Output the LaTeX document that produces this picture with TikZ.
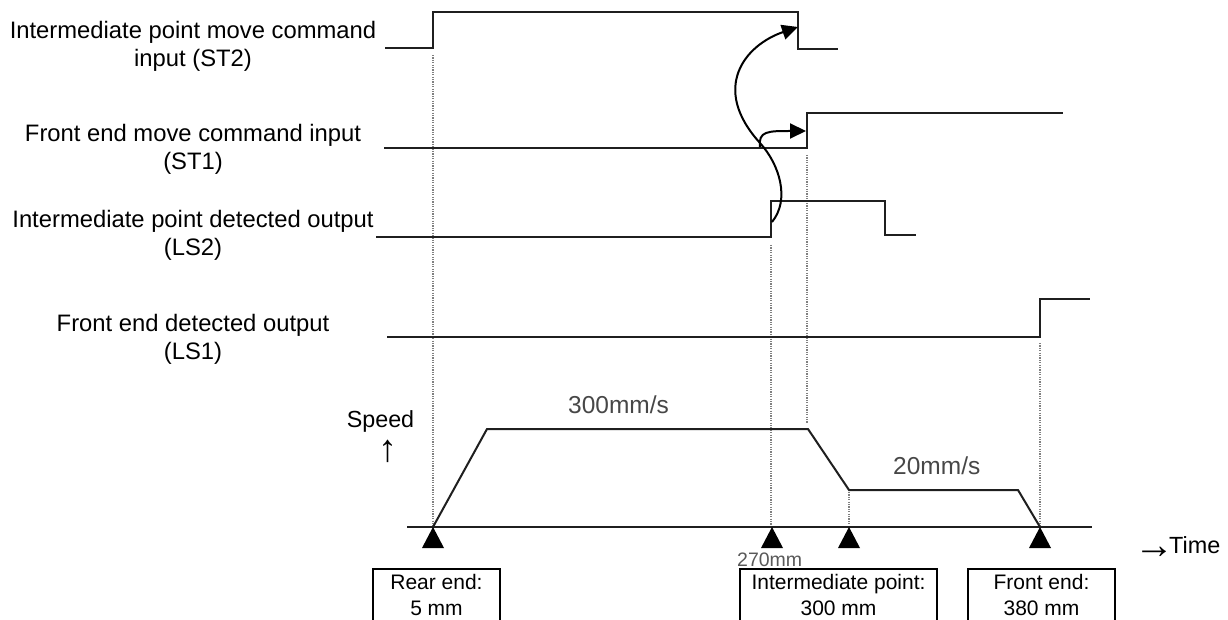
\documentclass[tikz,border=0pt]{standalone}
\usepackage{fontspec}
\setmainfont{Liberation Sans}
\usetikzlibrary{arrows.meta}
\begin{document}
\begin{tikzpicture}[x=1pt,y=-1pt,
  sig/.style={line width=2pt, draw=black!88, line join=miter},
  guide/.style={line width=1.4pt, draw=black!50, dash pattern=on 1.2pt off 1.2pt},
  lbl/.style={font=\fontsize{23.8}{28}\selectfont, inner sep=0pt, anchor=base, align=center},
  boxtxt/.style={font=\fontsize{21}{26}\selectfont, inner sep=0pt, anchor=base},
  val/.style={font=\fontsize{24.5}{28}\selectfont, inner sep=0pt, anchor=base west, text=black!72},
  posbox/.style={draw=black, line width=1.5pt, minimum height=62pt, anchor=north, inner sep=0pt},
  marker/.style={fill=black},
  cause/.style={line width=2pt, draw=black, -{Triangle[length=16pt,width=15pt]}}
]
\useasboundingbox (0,0) rectangle (1228,620);

% ---- labels (anchor = baseline of the last line)
\node[lbl] (st2lbl) at (193,67) {Intermediate point move command\\input (ST2)};
\node[lbl] (st1lbl) at (193,170) {Front end move command input\\(ST1)};
\node[lbl] (ls2lbl) at (193,255) {Intermediate point detected output\\(LS2)};
\node[lbl] (ls1lbl) at (193,359) {Front end detected output\\(LS1)};

% ---- guide lines (dotted)
\draw[guide] (433,55) -- (433,527);
\draw[guide] (771,245) -- (771,527);
\draw[guide] (807,155) -- (807,423);
\draw[guide] (849,492) -- (849,527);
\draw[guide] (1040,343) -- (1040,527);

% ---- signals
\draw[sig] (385,48) -- (433,48) -- (433,12) -- (798,12) -- (798,49) -- (838,49);
\draw[sig] (384,148) -- (807,148) -- (807,113) -- (1063,113);
\draw[sig] (376,237) -- (771,237) -- (771,201) -- (885,201) -- (885,235) -- (916,235);
\draw[sig] (387,337) -- (1040,337) -- (1040,299) -- (1090,299);

% ---- speed profile
\draw[sig] (407,527) -- (1092,527);
\draw[sig] (433,527) -- (487,429) -- (808,429) -- (849,490) -- (1018,490) -- (1040,527);
\node[val] (v300) at (568,413) {300mm/s};
\node[val] (v20) at (893,474) {20mm/s};
\node[lbl, font=\fontsize{23.3}{28}\selectfont] (speed) at (380.5,427) {Speed};
\node[lbl, font=\bfseries\fontsize{38}{28}\selectfont] (uparr) at (388,461) {↑};
\node[inner sep=0pt, anchor=base west, font=\fontsize{23.4}{28}\selectfont] (time) at (1134,553)
  {\raisebox{-5pt}{\bfseries\fontsize{40}{28}\selectfont →}\kern-5pt Time};

% ---- markers
\foreach \mx in {433,772,849,1040}
  \fill[marker] (\mx,527) -- (\mx-11,548) -- (\mx+11,548) -- cycle;
\node[inner sep=0pt, anchor=base west, text=black!65, font=\fontsize{19.5}{22}\selectfont] (p270) at (737,566) {270mm};

% ---- position boxes
\node[posbox, minimum width=127pt] (rear) at (436.5,568) {};
\node[boxtxt] at (436.5,589) {Rear end:};
\node[boxtxt] at (436.5,615) {5 mm};
\node[posbox, minimum width=197pt] (mid) at (838.5,568) {};
\node[boxtxt] at (838.5,589) {Intermediate point:};
\node[boxtxt] at (838.5,615) {300 mm};
\node[posbox, minimum width=147pt] (front) at (1041.5,568) {};
\node[boxtxt] at (1041.5,589) {Front end:};
\node[boxtxt] at (1041.5,615) {380 mm};

% ---- cause arrows
\coordinate (ls2up) at (772,222);
\coordinate (mid1) at (760,143);
\coordinate (st2down) at (798,27);
\coordinate (st1base) at (760,147);
\coordinate (st1up) at (806,131);
\draw[cause] (ls2up) .. controls (790,200) and (780,165) .. (mid1)
  .. controls (710,88) and (745,45) .. (st2down);
\draw[cause] (st1base) .. controls (758,131) and (768,131) .. (st1up);
\end{tikzpicture}
\end{document}
